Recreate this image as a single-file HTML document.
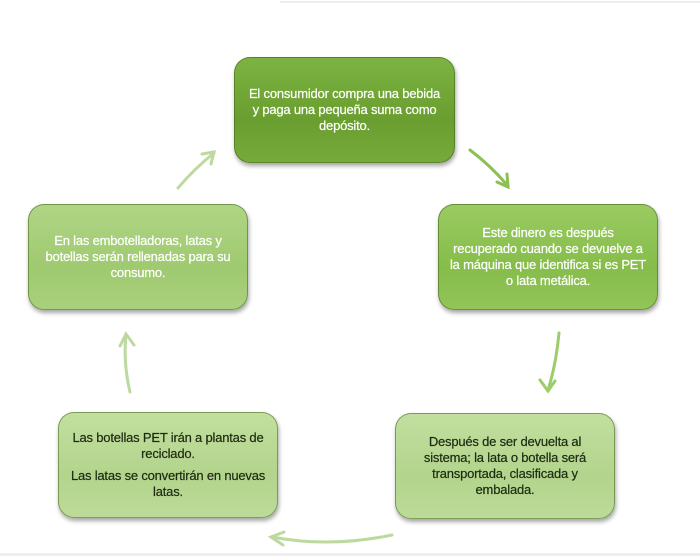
<!DOCTYPE html>
<html><head><meta charset="utf-8"><style>
html,body{margin:0;padding:0;background:#fff;}
body{width:700px;height:560px;position:relative;overflow:hidden;font-family:"Liberation Sans",sans-serif;}
.b{position:absolute;box-sizing:border-box;border-radius:16px;display:flex;align-items:center;justify-content:center;text-align:center;font-size:13px;line-height:16px;padding:0 4px;box-shadow:1px 3px 4px rgba(0,0,0,0.35);border:1px solid rgba(60,90,20,0.5);white-space:nowrap;letter-spacing:-0.2px;}
.b p{margin:0;}
.w{-webkit-text-stroke:0.2px #fff;}
.d{-webkit-text-stroke:0.2px #1d2a10;}
</style></head><body>
<div style="position:absolute;left:280px;top:1px;width:420px;height:2px;background:#eee"></div>
<div style="position:absolute;left:0;top:553px;width:700px;height:3px;background:#eee"></div>
<svg width="700" height="560" style="position:absolute;left:0;top:0" fill="none" stroke="#bcd9a0" stroke-width="3" stroke-linecap="round">
<path d="M470 150 Q490 165 508 186" stroke="#8cc152"/><path d="M497 182 L508 187 L507 174" stroke="#8cc152"/>
<path d="M559 333 Q556 365 548 390" stroke="#9ccd6a"/><path d="M540 380 L548 391 L555 381" stroke="#9ccd6a"/>
<path d="M392 535 Q330 548 272 537"/><path d="M284 532 L271 537 L283 545"/>
<path d="M130 392 Q123 362 126 335"/><path d="M120 346 L126 334 L134 345"/>
<path d="M178 188 Q195 168 214 153"/><path d="M202 154 L214 152 L211 164"/>
</svg>
<div class="b w" style="left:234px;top:57px;width:221px;height:106px;background:linear-gradient(#7cb342,#6a9e30 60%,#76aa3a);color:#fff">El consumidor compra una bebida<br>y paga una pequeña suma como<br>depósito.</div>
<div class="b w" style="left:438px;top:204px;width:220px;height:106px;background:linear-gradient(#9acb62,#86bd4a 60%,#92c45a);color:#fff">Este dinero es después<br>recuperado cuando se devuelve a<br>la máquina que identifica si es PET<br>o lata metálica.</div>
<div class="b d" style="left:395px;top:413px;width:220px;height:106px;background:linear-gradient(#c2df9f,#b2d48c 60%,#bcdb98);color:#1d2a10">Después de ser devuelta al<br>sistema; la lata o botella será<br>transportada, clasificada y<br>embalada.</div>
<div class="b d" style="left:58px;top:412px;width:220px;height:106px;background:linear-gradient(#c2df9f,#b2d48c 60%,#bcdb98);color:#1d2a10;flex-direction:column"><p>Las botellas PET irán a plantas de<br>reciclado.</p><p style="margin-top:6px">Las latas se convertirán en nuevas<br>latas.</p></div>
<div class="b w" style="left:28px;top:204px;width:220px;height:106px;background:linear-gradient(#b0d585,#9fca70 60%,#a9d07c);color:#fff">En las embotelladoras, latas y<br>botellas serán rellenadas para su<br>consumo.</div>
</body></html>
